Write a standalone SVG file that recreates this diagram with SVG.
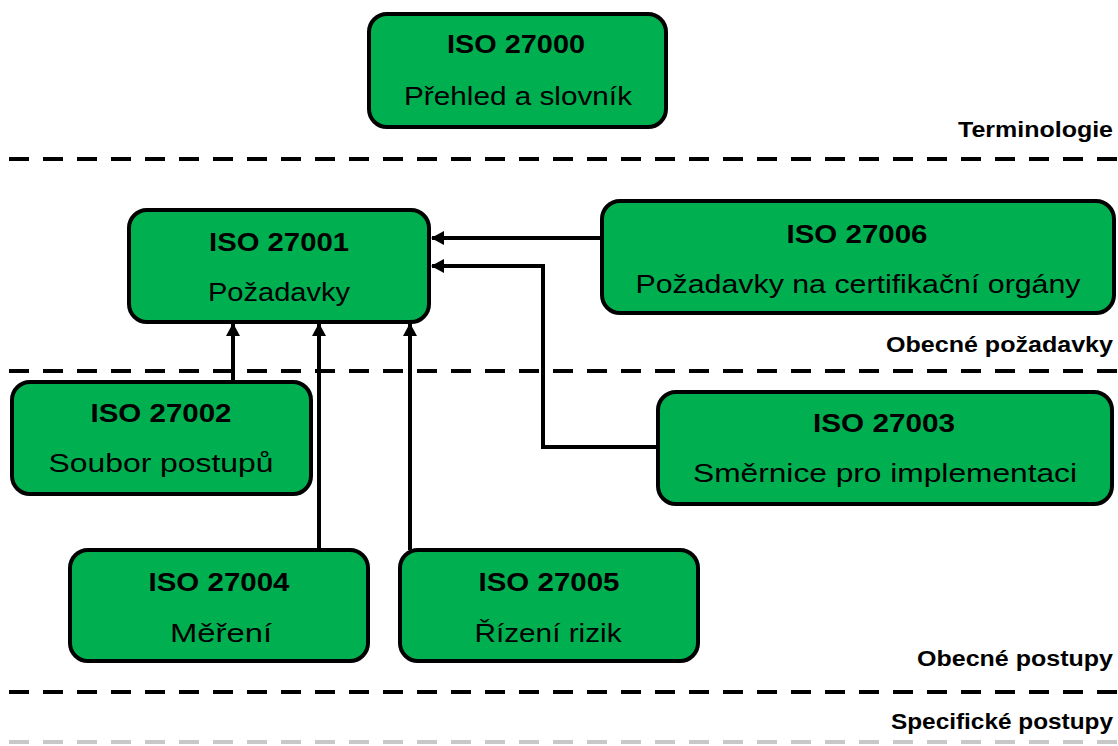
<svg xmlns="http://www.w3.org/2000/svg" width="1118" height="746" viewBox="0 0 1118 746">
<style>
.box{fill:#00B050;stroke:#000;stroke-width:4}
.t{font-family:"Liberation Sans",Arial,sans-serif;font-size:25px;font-weight:bold;fill:#000;text-anchor:middle}
.s{font-family:"Liberation Sans",Arial,sans-serif;font-size:26px;fill:#000;text-anchor:middle}
.lbl{font-family:"Liberation Sans",Arial,sans-serif;font-size:22px;font-weight:bold;fill:#000;text-anchor:end}
.dash{stroke:#000;stroke-width:4;stroke-dasharray:20 14;fill:none}
.conn{stroke:#000;stroke-width:4;fill:none;marker-end:url(#ah)}
</style>
<defs>
<marker id="ah" markerUnits="userSpaceOnUse" markerWidth="14" markerHeight="14" refX="12" refY="7" orient="auto">
<path d="M0,0 L13,7 L0,14 z" fill="#000"/>
</marker>
</defs>
<rect width="1118" height="746" fill="#fff"/>
<g id="separators">
<line class="dash" x1="9" y1="159" x2="1118" y2="159"/>
<line class="dash" x1="9" y1="371" x2="1118" y2="371"/>
<line class="dash" x1="9" y1="692" x2="1118" y2="692"/>
<line class="dash" x1="9" y1="742" x2="1118" y2="742" style="stroke:#c8c8c8"/>
</g>
<g id="labels">
<text class="lbl" x="1113" y="137" textLength="155" lengthAdjust="spacingAndGlyphs">Terminologie</text>
<text class="lbl" x="1113" y="352" textLength="227" lengthAdjust="spacingAndGlyphs">Obecné požadavky</text>
<text class="lbl" x="1113" y="666" textLength="196" lengthAdjust="spacingAndGlyphs">Obecné postupy</text>
<text class="lbl" x="1113" y="729" textLength="222" lengthAdjust="spacingAndGlyphs">Specifické postupy</text>
</g>
<g id="connectors">
<path class="conn" d="M602,238 H432"/>
<path class="conn" d="M658,447 H543 V266 H432"/>
<path class="conn" d="M233,382 V324"/>
<path class="conn" d="M319,550 V324"/>
<path class="conn" d="M410,550 V324"/>
</g>
<g id="iso27000">
<rect class="box" x="369" y="14" width="297" height="113" rx="18"/>
<text class="t" x="516" y="53" textLength="138" lengthAdjust="spacingAndGlyphs">ISO 27000</text>
<text class="s" x="518" y="105" textLength="228" lengthAdjust="spacingAndGlyphs">Přehled a slovník</text>
</g>
<g id="iso27001">
<rect class="box" x="129" y="210" width="300" height="112" rx="18"/>
<text class="t" x="279" y="251" textLength="140" lengthAdjust="spacingAndGlyphs">ISO 27001</text>
<text class="s" x="279" y="301" textLength="142" lengthAdjust="spacingAndGlyphs">Požadavky</text>
</g>
<g id="iso27006">
<rect class="box" x="602" y="201" width="512" height="112" rx="18"/>
<text class="t" x="857" y="243" textLength="141" lengthAdjust="spacingAndGlyphs">ISO 27006</text>
<text class="s" x="858" y="293" textLength="445" lengthAdjust="spacingAndGlyphs">Požadavky na certifikační orgány</text>
</g>
<g id="iso27002">
<rect class="box" x="12" y="382" width="299" height="112" rx="18"/>
<text class="t" x="161" y="422" textLength="141" lengthAdjust="spacingAndGlyphs">ISO 27002</text>
<text class="s" x="161" y="472" textLength="225" lengthAdjust="spacingAndGlyphs">Soubor postupů</text>
</g>
<g id="iso27003">
<rect class="box" x="658" y="392" width="454" height="112" rx="18"/>
<text class="t" x="884" y="432" textLength="142" lengthAdjust="spacingAndGlyphs">ISO 27003</text>
<text class="s" x="885" y="482" textLength="384" lengthAdjust="spacingAndGlyphs">Směrnice pro implementaci</text>
</g>
<g id="iso27004">
<rect class="box" x="70" y="550" width="298" height="111" rx="18"/>
<text class="t" x="219" y="591" textLength="141" lengthAdjust="spacingAndGlyphs">ISO 27004</text>
<text class="s" x="221" y="642" textLength="102" lengthAdjust="spacingAndGlyphs">Měření</text>
</g>
<g id="iso27005">
<rect class="box" x="400" y="550" width="298" height="111" rx="18"/>
<text class="t" x="549" y="591" textLength="141" lengthAdjust="spacingAndGlyphs">ISO 27005</text>
<text class="s" x="548" y="642" textLength="147" lengthAdjust="spacingAndGlyphs">Řízení rizik</text>
</g>
</svg>
